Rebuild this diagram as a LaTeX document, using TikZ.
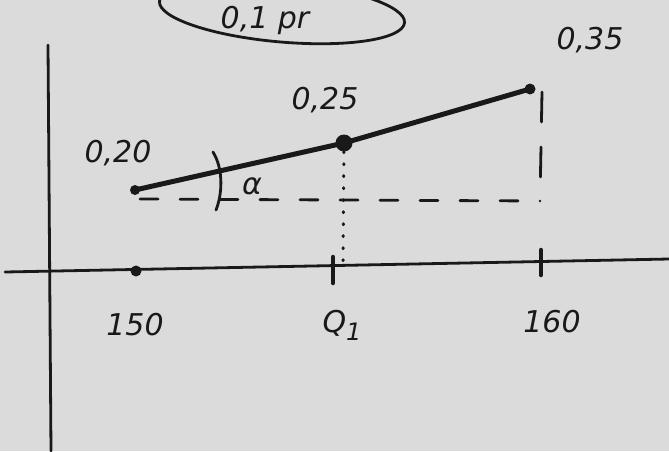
\documentclass[tikz,border=0pt]{standalone}
\usepackage{fontspec}
\setmainfont{DejaVu Sans}
\begin{document}
\begin{tikzpicture}[x=1pt,y=-1pt,
  ink/.style={draw=black!90, line width=3.6pt, line cap=round},
  thin ink/.style={draw=black!90, line width=2.8pt, line cap=round},
  lab/.style={text=black!90, font=\fontsize{30}{34}\selectfont\itshape, inner sep=0pt},
  dot/.style={circle, fill=black!90, inner sep=0pt, minimum size=#1}]
\fill[black!14] (0,0) rectangle (669,451);
\useasboundingbox (0,0) rectangle (669,451);
% axes
\coordinate (vtop) at (48,45);
\coordinate (vbot) at (51,451);
\draw[thin ink] (vtop) -- (vbot);
\coordinate (hl) at (5,272);
\coordinate (hr) at (669,259);
\draw[thin ink] (hl) -- (hr);
% ticks
\node[dot=11pt] (x150) at (136,271) {};
\coordinate (q1top) at (333,257);
\coordinate (q1bot) at (333,283);
\draw[ink, line width=4.5pt] (q1top) -- (q1bot);
\coordinate (t160top) at (541,250);
\coordinate (t160bot) at (541,275);
\draw[ink, line width=4.5pt] (t160top) -- (t160bot);
% axis labels
\node[lab] (l150) at (135,325) {150};
\node[lab] (lq1) at (342,325) {Q\raisebox{-8pt}{\fontsize{24}{26}\selectfont 1}};
\node[lab] (l160) at (552,322) {160};
% data points and line
\node[dot=10pt] (p1) at (135,190) {};
\node[dot=17pt] (p2) at (344,143) {};
\node[dot=11pt] (p3) at (530,89) {};
\draw[ink, line width=5pt] (p1.center) -- (p2.center) -- (p3.center);
% dashed guides
\coordinate (dl) at (140,199);
\coordinate (dr) at (540,201);
\draw[thin ink, dash pattern=on 18pt off 22pt] (dl) -- (dr);
\coordinate (vt) at (542,92);
\draw[thin ink, dash pattern=on 30pt off 25pt] (vt) -- (dr);
\coordinate (qd) at (343,265);
\draw[thin ink, line width=3pt, dash pattern=on 1pt off 11pt] (p2) -- (qd);
% angle arc
\coordinate (a1) at (213,152);
\coordinate (a2) at (216,210);
\draw[thin ink] (a1) .. controls (224,170) and (222,195) .. (a2);
\node[lab] (alpha) at (252,186) {α};
% value labels
\node[lab] (v20) at (118,153) {0,20};
\node[lab] (v25) at (325,100) {0,25};
\node[lab] (v35) at (590,40) {0,35};
% top ellipse
\draw[thin ink, rotate around={-5:(282,12)}] (282,12) ellipse (123pt and 30pt);
\node[lab] (pr) at (265,20) {0,1 pr};
\end{tikzpicture}
\end{document}
